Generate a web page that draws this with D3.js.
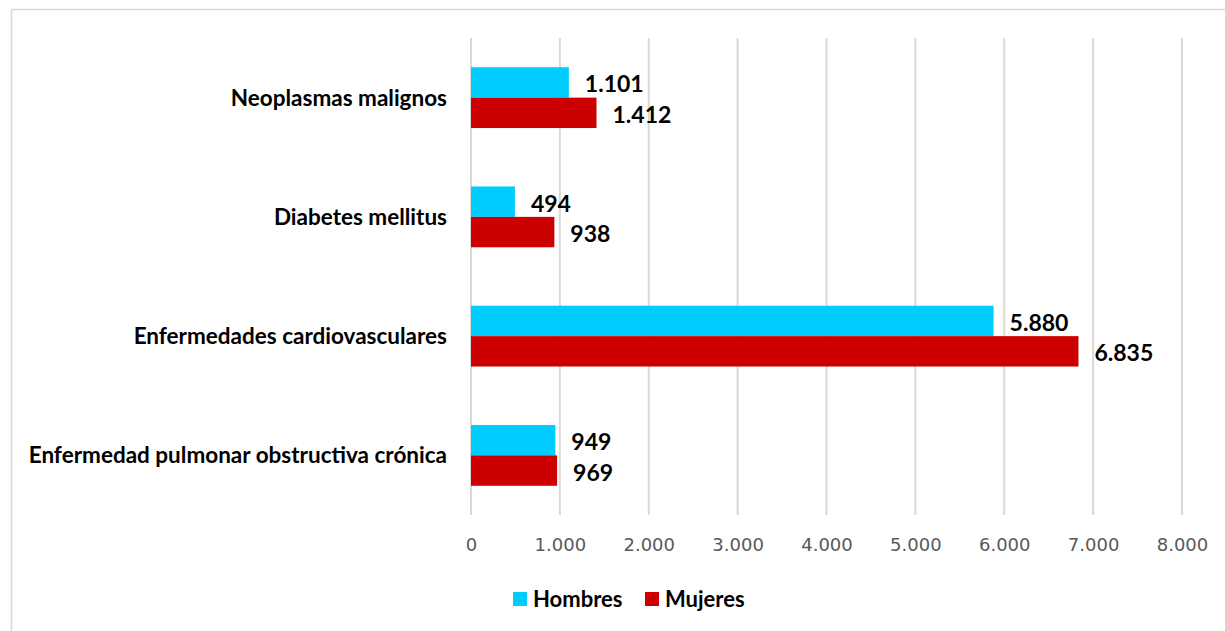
<!DOCTYPE html>
<html>
<head>
<meta charset="utf-8">
<script src="https://cdn.jsdelivr.net/npm/d3@7"></script>
<style>
  body { margin: 0; background: #fff; }
  svg { display: block; }
</style>
</head>
<body>
<svg id="chart" width="1225" height="631"></svg>
<script>
// data
var categories = ["Neoplasmas malignos", "Diabetes mellitus", "Enfermedades cardiovasculares", "Enfermedad pulmonar obstructiva crónica"];
var series = ["Hombres", "Mujeres"];
var hombres = [1101, 494, 5880, 949];
var mujeres = [1412, 938, 6835, 969];
var xTicks = [0, 1000, 2000, 3000, 4000, 5000, 6000, 7000, 8000];
var colors = ["#00ccff", "#cc0000"];

var es = d3.formatLocale({ decimal: ",", thousands: ".", grouping: [3], currency: ["", "€"] });
var fmt = es.format(",");

var svg = d3.select("#chart");

// chart frame
svg.append("rect")
    .attr("x", 11.5).attr("y", 9.5)
    .attr("width", 1300).attr("height", 700)
    .attr("fill", "#fff")
    .attr("stroke", "#d9d9d9")
    .attr("stroke-width", 1.5);

var x = d3.scaleLinear().domain([0, 8000]).range([471, 1182]);
var y = d3.scaleBand().domain(categories).range([38, 515]).paddingInner(0.49).paddingOuter(0.245);
var ySub = d3.scaleBand().domain(series).range([0, y.bandwidth()]);

// gridlines
svg.append("g").selectAll("line")
    .data(xTicks)
    .enter().append("line")
    .attr("x1", function (d) { return x(d); })
    .attr("x2", function (d) { return x(d); })
    .attr("y1", 38).attr("y2", 515)
    .attr("stroke", "#d9d9d9")
    .attr("stroke-width", 2);

// x axis
var xAxis = svg.append("g")
    .attr("transform", "translate(0,515)")
    .call(d3.axisBottom(x).tickValues(xTicks).tickFormat(fmt).tickSize(0).tickPadding(23));
xAxis.select(".domain").remove();
xAxis.selectAll("text")
    .attr("fill", "#595959")
    .style("font-family", "DejaVu Sans")
    .style("font-size", "18px");

// category labels
svg.append("g").selectAll("text")
    .data(categories)
    .enter().append("text")
    .attr("x", 447)
    .attr("y", function (d) { return y(d) + y.bandwidth() / 2; })
    .attr("dy", "0.35em")
    .attr("text-anchor", "end")
    .style("font-family", "Lato")
    .style("font-weight", "bold")
    .style("font-size", "22.5px")
    .text(function (d) { return d; });

var rows = categories.map(function (c, i) {
    return { cat: c, vals: [hombres[i], mujeres[i]] };
});

var groups = svg.append("g").selectAll("g")
    .data(rows)
    .enter().append("g")
    .attr("transform", function (d) { return "translate(0," + y(d.cat) + ")"; });

groups.selectAll("rect")
    .data(function (d) { return d.vals.map(function (v, j) { return { s: series[j], v: v, j: j }; }); })
    .enter().append("rect")
    .attr("x", x(0))
    .attr("y", function (d) { return ySub(d.s); })
    .attr("width", function (d) { return x(d.v) - x(0); })
    .attr("height", ySub.bandwidth())
    .attr("fill", function (d) { return colors[d.j]; });

groups.selectAll("text")
    .data(function (d) { return d.vals.map(function (v, j) { return { s: series[j], v: v, j: j }; }); })
    .enter().append("text")
    .attr("x", function (d) { return x(d.v) + 16; })
    .attr("y", function (d) { return ySub(d.s) + ySub.bandwidth() / 2 + 2; })
    .attr("dy", "0.35em")
    .style("font-family", "Lato")
    .style("font-weight", "bold")
    .style("font-size", "23px")
    .attr("fill", "#000")
    .text(function (d) { return fmt(d.v); });

// legend
var legendX = [513, 645];
var legend = svg.append("g").selectAll("g")
    .data(series)
    .enter().append("g")
    .attr("transform", function (d, i) { return "translate(" + legendX[i] + ",592)"; });
legend.append("rect")
    .attr("width", 14).attr("height", 14)
    .attr("fill", function (d, i) { return colors[i]; });
legend.append("text")
    .attr("x", 20).attr("y", 7)
    .attr("dy", "0.35em")
    .style("font-family", "Lato")
    .style("font-weight", "bold")
    .style("font-size", "22px")
    .text(function (d) { return d; });
</script>
</body>
</html>
